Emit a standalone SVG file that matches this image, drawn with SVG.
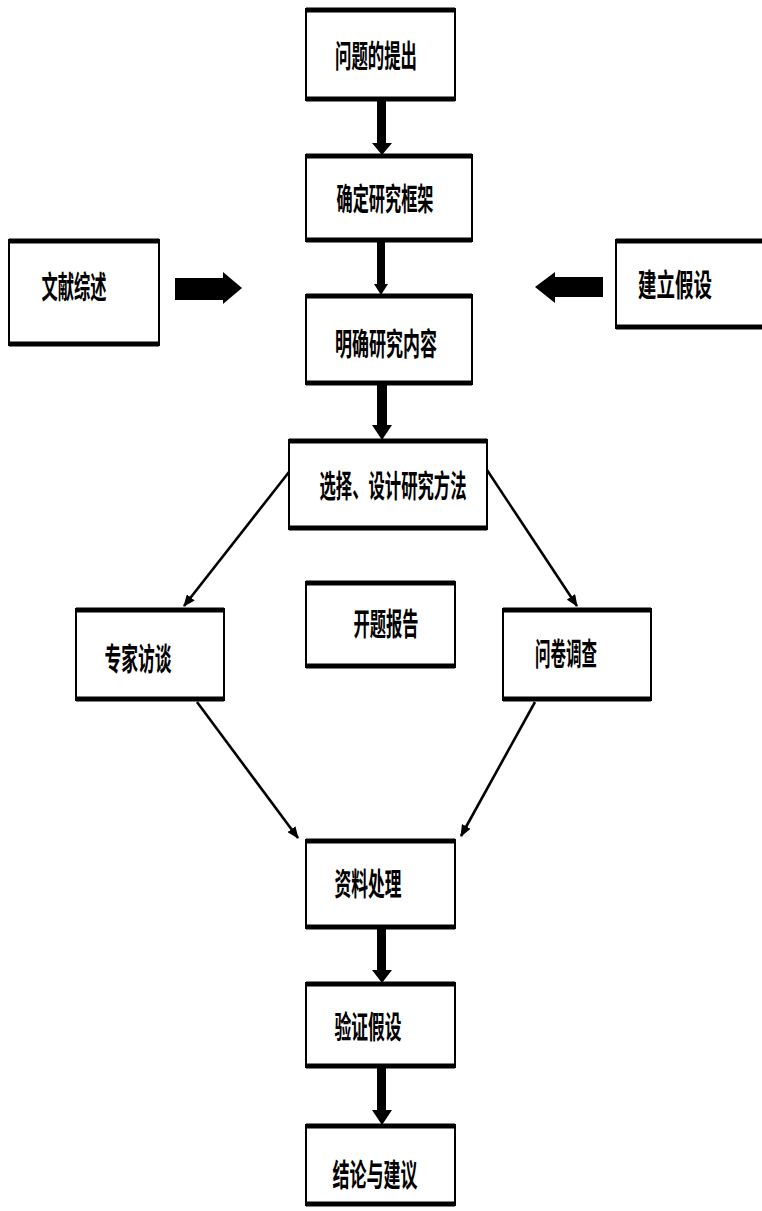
<svg xmlns="http://www.w3.org/2000/svg" width="762" height="1211" viewBox="0 0 762 1211">
<style>
.box{fill:#fff;stroke:#000;stroke-width:2}
.edge{stroke:#000;stroke-width:5;fill:none}
.lbl{font-family:"Noto Sans CJK SC","Noto Sans CJK TC",sans-serif;font-weight:bold;font-size:31px;fill:#000;text-anchor:middle;dominant-baseline:central}
.blk{fill:#000;stroke:none}
.thin{stroke:#000;stroke-width:2.6;fill:none;marker-end:url(#ah)}
</style>
<defs>
<marker id="ah" viewBox="0 0 12 10" refX="11" refY="5" markerWidth="12" markerHeight="10" markerUnits="userSpaceOnUse" orient="auto">
<path d="M0,0 L12,5 L0,10 Z" fill="#000"/>
</marker>
</defs>
<rect width="762" height="1211" fill="#fff"/>

<g id="connectors">
<polygon class="blk" points="377,100 386,100 386,143 392,143 382,155 372,143 377,143"/>
<polygon class="blk" points="377,242 385,242 385,284 388,284 381,295 374,284 377,284"/>
<polygon class="blk" points="377,385 387,385 387,425 392,425 382,440 372,425 377,425"/>
<polygon class="blk" points="377,928 386,928 386,970 392,970 382,983 372,970 377,970"/>
<polygon class="blk" points="377,1067 386,1067 386,1110 392,1110 382,1125 372,1110 377,1110"/>
<polygon class="blk" points="175,278 223,278 223,272 242,288 223,304 223,300 175,300"/>
<polygon class="blk" points="603,277 555,277 555,272 535,287 555,303 555,297 603,297"/>
<path class="thin" d="M289,472 L184,606"/>
<path class="thin" d="M487,470 L577,606"/>
<path class="thin" d="M197,702 L298,838"/>
<path class="thin" d="M535,702 L461,836"/>
</g>

<g id="n1">
<rect class="box" x="306" y="9" width="149" height="91"/>
<path class="edge" d="M306,10 H455 M306,99 H455"/>
<text class="lbl" x="376" y="53" textLength="82" lengthAdjust="spacingAndGlyphs">问题的提出</text>
</g>
<g id="n2">
<rect class="box" x="306" y="155" width="166" height="86"/>
<path class="edge" d="M306,156 H472 M306,240 H472"/>
<text class="lbl" x="385" y="196" textLength="97" lengthAdjust="spacingAndGlyphs">确定研究框架</text>
</g>
<g id="n_lit">
<rect class="box" x="9" y="240" width="150" height="105"/>
<path class="edge" d="M9,241 H159 M9,344 H159"/>
<text class="lbl" x="74" y="284" textLength="65" lengthAdjust="spacingAndGlyphs">文献综述</text>
</g>
<g id="n_hyp">
<rect class="box" x="616" y="240" width="150" height="88"/>
<path class="edge" d="M616,241 H766 M616,327 H766"/>
<text class="lbl" x="675" y="282" textLength="74" lengthAdjust="spacingAndGlyphs">建立假设</text>
</g>
<g id="n3">
<rect class="box" x="306" y="295" width="166" height="89"/>
<path class="edge" d="M306,296 H472 M306,383 H472"/>
<text class="lbl" x="386" y="341" textLength="102" lengthAdjust="spacingAndGlyphs">明确研究内容</text>
</g>
<g id="n4">
<rect class="box" x="289" y="440" width="198" height="89"/>
<path class="edge" d="M289,441 H487 M289,528 H487"/>
<text class="lbl" x="393" y="483" textLength="147" lengthAdjust="spacingAndGlyphs">选择、设计研究方法</text>
</g>
<g id="n_expert">
<rect class="box" x="76" y="609" width="148" height="91"/>
<path class="edge" d="M76,610 H224 M76,699 H224"/>
<text class="lbl" x="138" y="656" textLength="67" lengthAdjust="spacingAndGlyphs">专家访谈</text>
</g>
<g id="n_report">
<rect class="box" x="306" y="582" width="149" height="85"/>
<path class="edge" d="M306,583 H455 M306,666 H455"/>
<text class="lbl" x="386" y="621" textLength="65" lengthAdjust="spacingAndGlyphs">开题报告</text>
</g>
<g id="n_survey">
<rect class="box" x="503" y="609" width="148" height="91"/>
<path class="edge" d="M503,610 H651 M503,699 H651"/>
<text class="lbl" x="566" y="651" textLength="62" lengthAdjust="spacingAndGlyphs">问卷调查</text>
</g>
<g id="n_data">
<rect class="box" x="306" y="840" width="149" height="88"/>
<path class="edge" d="M306,841 H455 M306,927 H455"/>
<text class="lbl" x="368" y="881" textLength="67" lengthAdjust="spacingAndGlyphs">资料处理</text>
</g>
<g id="n_verify">
<rect class="box" x="306" y="983" width="149" height="84"/>
<path class="edge" d="M306,984 H455 M306,1066 H455"/>
<text class="lbl" x="368" y="1024" textLength="67" lengthAdjust="spacingAndGlyphs">验证假设</text>
</g>
<g id="n_concl">
<rect class="box" x="306" y="1125" width="149" height="80"/>
<path class="edge" d="M306,1126 H455 M306,1204 H455"/>
<text class="lbl" x="375" y="1172" textLength="85" lengthAdjust="spacingAndGlyphs">结论与建议</text>
</g>
</svg>
